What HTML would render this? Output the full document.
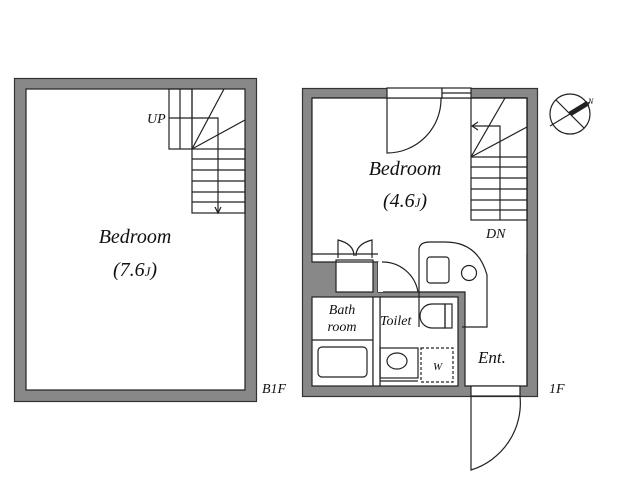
<!DOCTYPE html>
<html><head><style>body{margin:0;background:#fff}svg{display:block}text{font-family:"Liberation Serif",serif;font-style:italic;fill:#111}</style></head><body>
<svg width="618" height="489" viewBox="0 0 618 489" xmlns="http://www.w3.org/2000/svg">
<g fill="none" stroke="#222" stroke-width="1.2">
<rect x="14.5" y="78.5" width="242" height="323" fill="#888" stroke="#333"/>
<rect x="26" y="89" width="219" height="301" fill="#fff"/>
<rect x="169" y="89" width="23" height="60"/>
<line x1="180" y1="89" x2="180" y2="149"/>
<rect x="192" y="149" width="53" height="64"/>
<line x1="192" y1="159" x2="245" y2="159"/><line x1="192" y1="170" x2="245" y2="170"/><line x1="192" y1="181" x2="245" y2="181"/><line x1="192" y1="192" x2="245" y2="192"/><line x1="192" y1="202" x2="245" y2="202"/>
<line x1="192" y1="89" x2="192" y2="149"/>
<line x1="192" y1="149" x2="224" y2="89"/><line x1="192" y1="149" x2="245" y2="120"/>
<polyline points="169,118 218,118 218,213"/>
<polyline points="215,207 218,213 221,207"/>
<rect x="302.5" y="88.5" width="235" height="308" fill="#888" stroke="#333"/>
<path d="M312,98 H527 V386 H465 V292 H378 V262 H312 Z" fill="#fff"/>
<rect x="312" y="297" width="61" height="89" fill="#fff"/>
<rect x="380" y="297" width="78" height="89" fill="#fff"/>
<rect x="312" y="98" width="215" height="156" fill="#fff" stroke="none"/>
<path d="M312,98 H527 V386 M312,98 V254 H378" />
<rect x="387" y="88" width="55" height="10" fill="#fff"/>
<rect x="442" y="88" width="29" height="10" fill="#fff"/>
<line x1="442" y1="93" x2="471" y2="93"/>
<path d="M387,98 V153 A54,54 0 0 0 441,98"/>
<rect x="471" y="98" width="56" height="122"/>
<line x1="471" y1="157" x2="527" y2="157"/><line x1="471" y1="167" x2="527" y2="167"/><line x1="471" y1="178" x2="527" y2="178"/><line x1="471" y1="189" x2="527" y2="189"/><line x1="471" y1="200" x2="527" y2="200"/><line x1="471" y1="210" x2="527" y2="210"/>
<line x1="471" y1="157" x2="505" y2="98"/><line x1="471" y1="157" x2="527" y2="127"/>
<polyline points="500,220 500,126 473,126"/>
<polyline points="478,122 472,126 478,130"/>
<rect x="336" y="260" width="37" height="32" fill="#fff"/>
<line x1="336" y1="262" x2="373" y2="262"/>
<path d="M338,258 V240 Q354,244 354,256 M372,258 V240 Q356,244 356,256"/>
<rect x="378" y="262" width="5" height="30" fill="#fff" stroke="none"/>
<path d="M382,262 A36,36 0 0 1 418,292"/>
<path d="M419,327 V250 Q419,242 430,242 H445 Q478,242 487,275 V327 H462"/>
<rect x="427" y="257" width="22" height="26" rx="3"/>
<circle cx="469" cy="273" r="7.5"/>
<line x1="312" y1="340" x2="373" y2="340"/>
<rect x="318" y="347" width="49" height="30" rx="4"/>
<rect x="373" y="297" width="7" height="89" fill="#fff"/>
<path d="M445,304 H432 A12,12 0 0 0 432,328 H445 Z"/>
<rect x="445" y="304" width="7" height="24"/>
<rect x="380" y="348" width="38" height="30"/>
<ellipse cx="397" cy="361" rx="10" ry="8"/>
<line x1="380" y1="381" x2="418" y2="381"/>
<rect x="421" y="348" width="32" height="34" stroke-dasharray="3,2"/>
<rect x="471" y="386" width="49" height="10" fill="#fff"/>
<path d="M471,396 V470 A70,70 0 0 0 520,396"/>
<circle cx="570" cy="114" r="20" fill="#fff"/>
<line x1="556" y1="100" x2="584" y2="128"/><line x1="550" y1="126" x2="590" y2="102"/>
<line x1="570" y1="114" x2="588" y2="103" stroke-width="5"/>
</g>
<g font-size="20">
<text x="135" y="243" text-anchor="middle">Bedroom</text>
<text x="135" y="276" text-anchor="middle">(7.6<tspan font-size="13">J</tspan>)</text>
<text x="405" y="175" text-anchor="middle">Bedroom</text>
<text x="405" y="207" text-anchor="middle">(4.6<tspan font-size="13">J</tspan>)</text>
</g>
<g font-size="14">
<text x="147" y="123">UP</text>
<text x="262" y="393">B1F</text>
<text x="486" y="238">DN</text>
<text x="342" y="314" text-anchor="middle">Bath</text>
<text x="342" y="331" text-anchor="middle">room</text>
<text x="380" y="325">Toilet</text>
<text x="478" y="363" font-size="17">Ent.</text>
<text x="549" y="393">1F</text>
<text x="433" y="370" font-size="11">W</text>
<text x="588" y="104" font-size="8" font-style="normal">N</text>
</g>
</svg>
</body></html>
